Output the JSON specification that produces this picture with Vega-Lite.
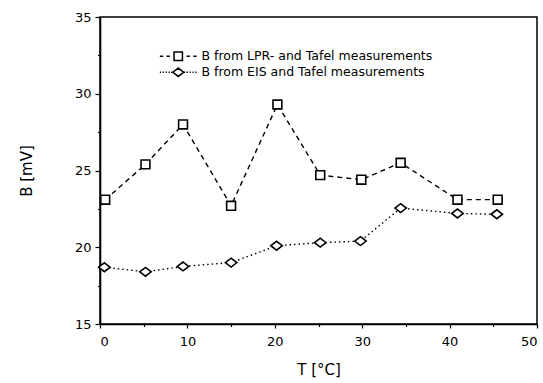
{
  "$schema": "https://vega.github.io/schema/vega-lite/v6.json",
  "width": 437,
  "height": 307,
  "autosize": {"type": "none"},
  "padding": {"left": 100, "top": 17, "right": 6, "bottom": 59},
  "config": {
    "font": "DejaVu Sans",
    "view": {"stroke": "black", "strokeWidth": 1.5},
    "axis": {
      "domainColor": "black",
      "domainWidth": 1.6,
      "tickColor": "black",
      "tickWidth": 1.2,
      "labelColor": "black",
      "labelFontSize": 13,
      "titleColor": "black",
      "titleFontSize": 15,
      "titleFontWeight": "normal",
      "grid": false
    }
  },
  "data": {
    "values": [
      {"T": 0.6, "B": 23.1, "series": "B from LPR-  and Tafel measurements"},
      {"T": 5.2, "B": 25.4, "series": "B from LPR-  and Tafel measurements"},
      {"T": 9.5, "B": 28.0, "series": "B from LPR-  and Tafel measurements"},
      {"T": 15.0, "B": 22.7, "series": "B from LPR-  and Tafel measurements"},
      {"T": 20.3, "B": 29.3, "series": "B from LPR-  and Tafel measurements"},
      {"T": 25.2, "B": 24.7, "series": "B from LPR-  and Tafel measurements"},
      {"T": 29.9, "B": 24.4, "series": "B from LPR-  and Tafel measurements"},
      {"T": 34.4, "B": 25.5, "series": "B from LPR-  and Tafel measurements"},
      {"T": 40.9, "B": 23.1, "series": "B from LPR-  and Tafel measurements"},
      {"T": 45.5, "B": 23.1, "series": "B from LPR-  and Tafel measurements"},
      {"T": 0.5, "B": 18.7, "series": "B from EIS and Tafel measurements"},
      {"T": 5.2, "B": 18.4, "series": "B from EIS and Tafel measurements"},
      {"T": 9.5, "B": 18.75, "series": "B from EIS and Tafel measurements"},
      {"T": 15.0, "B": 19.0, "series": "B from EIS and Tafel measurements"},
      {"T": 20.2, "B": 20.1, "series": "B from EIS and Tafel measurements"},
      {"T": 25.2, "B": 20.3, "series": "B from EIS and Tafel measurements"},
      {"T": 29.8, "B": 20.4, "series": "B from EIS and Tafel measurements"},
      {"T": 34.4, "B": 22.55, "series": "B from EIS and Tafel measurements"},
      {"T": 40.9, "B": 22.2, "series": "B from EIS and Tafel measurements"},
      {"T": 45.4, "B": 22.15, "series": "B from EIS and Tafel measurements"}
    ]
  },
  "encoding": {
    "x": {
      "field": "T",
      "type": "quantitative",
      "scale": {"domain": [0, 50], "nice": false, "zero": false},
      "axis": {
        "title": "T [°C]",
        "values": [0, 5, 10, 15, 20, 25, 30, 35, 40, 45, 50],
        "labelExpr": "datum.value % 10 === 0 ? datum.label : ''",
        "tickSize": {"condition": {"test": "datum.value % 10 === 0", "value": 4}, "value": 2.5},
        "labelPadding": 7,
        "titlePadding": 14
      }
    },
    "y": {
      "field": "B",
      "type": "quantitative",
      "scale": {"domain": [15, 35], "nice": false, "zero": false},
      "axis": {
        "title": "B [mV]",
        "values": [15, 17.5, 20, 22.5, 25, 27.5, 30, 32.5, 35],
        "labelExpr": "datum.value % 5 === 0 ? datum.label : ''",
        "tickSize": {"condition": {"test": "datum.value % 5 === 0", "value": 5}, "value": 2.5},
        "labelPadding": 4,
        "titlePadding": 40
      }
    }
  },
  "layer": [
    {
      "transform": [{"filter": "datum.series === 'B from LPR-  and Tafel measurements'"}],
      "mark": {"type": "line", "color": "black", "strokeWidth": 1.4, "strokeDash": [5, 4]},
      "encoding": {}
    },
    {
      "transform": [{"filter": "datum.series === 'B from EIS and Tafel measurements'"}],
      "mark": {"type": "line", "color": "black", "strokeWidth": 1.4, "strokeDash": [1.5, 3]},
      "encoding": {}
    },
    {
      "transform": [{"filter": "datum.series === 'B from LPR-  and Tafel measurements'"}],
      "mark": {"type": "point", "shape": "square", "filled": true, "fill": "white", "stroke": "black", "strokeWidth": 1.6, "size": 78, "opacity": 1},
      "encoding": {}
    },
    {
      "transform": [{"filter": "datum.series === 'B from EIS and Tafel measurements'"}],
      "mark": {"type": "point", "shape": "M-1.3,0L0,-1L1.3,0L0,1Z", "filled": true, "fill": "white", "stroke": "black", "strokeWidth": 1.6, "size": 78, "opacity": 1},
      "encoding": {}
    },
    {
      "transform": [{"filter": "false"}],
      "mark": {"type": "point", "filled": false, "color": "black", "strokeWidth": 1.5, "opacity": 1},
      "encoding": {
        "shape": {
          "field": "series",
          "type": "nominal",
          "scale": {
            "domain": ["B from LPR-  and Tafel measurements", "B from EIS and Tafel measurements"],
            "range": [
              "M-4.4,0L-3.6,0M-2.8,0L-2,0M-1,-1L1,-1L1,1L-1,1ZM2,0L2.8,0M3.6,0L4.4,0",
              "M-4.4,0L-4.1,0M-3.7,0L-3.4,0M-3,0L-2.7,0M-2.3,0L-2,0M-1.7,0L-1.45,0M-1.3,0L0,-1L1.3,0L0,1ZM1.45,0L1.7,0M2,0L2.3,0M2.7,0L3,0M3.4,0L3.7,0M4.1,0L4.4,0"
            ]
          },
          "legend": {
            "title": null,
            "orient": "none",
            "legendX": 57,
            "legendY": 33,
            "padding": 0,
            "labelFontSize": 12.5,
            "labelColor": "black",
            "labelLimit": 400,
            "symbolSize": 70,
            "symbolStrokeWidth": 1.5,
            "symbolStrokeColor": "black",
            "symbolOpacity": 1,
            "rowPadding": 1,
            "labelOffset": 17,
            "symbolOffset": 15
          }
        }
      }
    }
  ]
}
